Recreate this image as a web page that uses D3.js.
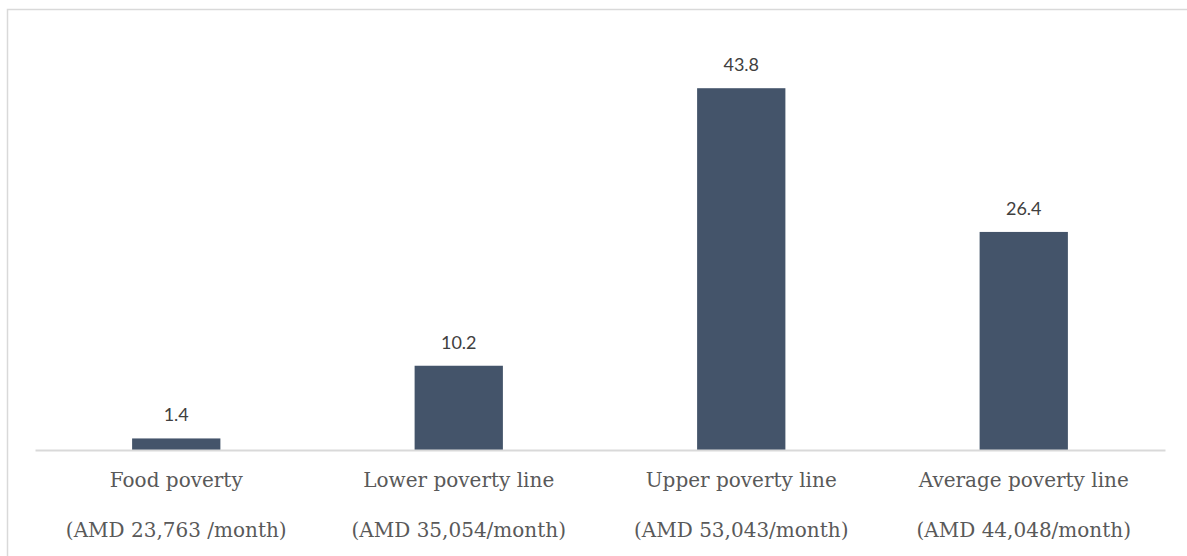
<!DOCTYPE html>
<html>
<head>
<meta charset="utf-8">
<script src="https://cdn.jsdelivr.net/npm/d3@7"></script>
<style>
  html, body { margin: 0; padding: 0; background: #fff; }
  svg { display: block; }
</style>
</head>
<body>
<svg id="chart" width="1187" height="556"></svg>
<script>
const categories = ["Food poverty", "Lower poverty line", "Upper poverty line", "Average poverty line"];
const subLabels = ["(AMD 23,763 /month)", "(AMD 35,054/month)", "(AMD 53,043/month)", "(AMD 44,048/month)"];
const values = [1.4, 10.2, 43.8, 26.4];
const valueLabels = ["1.4", "10.2", "43.8", "26.4"];

const W = 1187, H = 556;
const svg = d3.select("#chart");

// chart frame (left + top border)
svg.append("path")
  .attr("d", `M7.5,${H} L7.5,9.5 L${W},9.5`)
  .attr("fill", "none")
  .attr("stroke", "#d9d9d9")
  .attr("stroke-width", 1.5);

const x = d3.scaleBand()
  .domain(categories)
  .range([35, 1165])
  .paddingInner(0.6875)
  .paddingOuter(0.34375);

const y = d3.scaleLinear()
  .domain([0, 50])
  .range([450, 37]);

// bars
svg.selectAll("rect.bar")
  .data(values)
  .join("rect")
  .attr("class", "bar")
  .attr("x", (d, i) => x(categories[i]))
  .attr("width", x.bandwidth())
  .attr("y", d => y(d))
  .attr("height", d => y(0) - y(d))
  .attr("fill", "#44546a");

// axis line
const axis = d3.axisBottom(x).tickSize(0).tickFormat("");
const gx = svg.append("g").attr("transform", `translate(0,${y(0)})`).call(axis);
gx.select(".domain").attr("stroke", "#d9d9d9").attr("stroke-width", 2);

// value labels
svg.selectAll("text.val")
  .data(values)
  .join("text")
  .attr("class", "val")
  .attr("x", (d, i) => x(categories[i]) + x.bandwidth() / 2)
  .attr("y", d => y(d) - 17)
  .attr("text-anchor", "middle")
  .attr("font-family", "Lato, 'Open Sans', sans-serif")
  .attr("font-size", 18)
  .attr("fill", "#404040")
  .text((d, i) => valueLabels[i]);

// category labels
svg.selectAll("text.cat")
  .data(categories)
  .join("text")
  .attr("class", "cat")
  .attr("x", d => x(d) + x.bandwidth() / 2)
  .attr("y", 487)
  .attr("text-anchor", "middle")
  .attr("font-family", "'DejaVu Serif', serif")
  .attr("font-size", 20)
  .attr("fill", "#595959")
  .text(d => d);

svg.selectAll("text.sub")
  .data(subLabels)
  .join("text")
  .attr("class", "sub")
  .attr("x", (d, i) => x(categories[i]) + x.bandwidth() / 2)
  .attr("y", 537)
  .attr("text-anchor", "middle")
  .attr("font-family", "'DejaVu Serif', serif")
  .attr("font-size", 20)
  .attr("fill", "#595959")
  .text(d => d);
</script>
</body>
</html>
